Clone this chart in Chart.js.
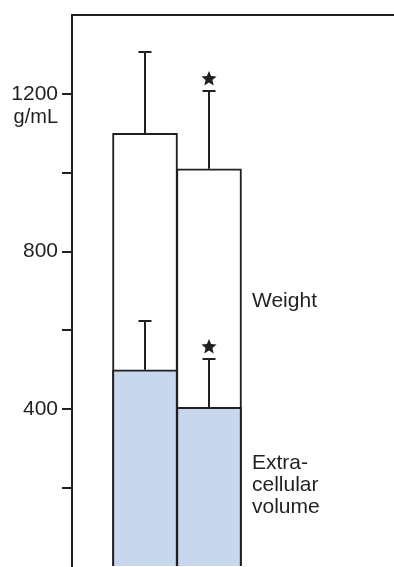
<!DOCTYPE html>
<html>
<head>
<meta charset="utf-8">
<script src="https://cdn.jsdelivr.net/npm/chart.js@4/dist/chart.umd.min.js"></script>
<style>
  html, body { margin: 0; padding: 0; background: #ffffff; }
  canvas { display: block; }
</style>
</head>
<body>
<canvas id="chart" width="394" height="567"></canvas>
<script>
// Two groups, each shown as an overlaid pair of bars (body weight behind,
// extracellular volume in front), with upward SD bars and significance stars.
const groups = ['Group 1', 'Group 2'];
const weight = [1100, 1010];
const weightSD = [205, 197];
const ecv = [500, 405];
const ecvSD = [125, 123];
const significant = [false, true];

const yTickLabels = [400, 800, 1200];
const yUnit = 'g/mL';
const weightLabel = ['Weight'];
const ecvLabel = ['Extra-', 'cellular', 'volume'];

const INK = '#231f20';
const BLUE = '#c6d7ee';
const FONT = '"Liberation Sans", Arial, Helvetica, sans-serif';

const toPoints = arr => arr.map((v, i) => ({ x: i + 1, y: v }));

function drawStar(ctx, cx, cy, R, r) {
  ctx.beginPath();
  for (let k = 0; k < 10; k++) {
    const rad = k % 2 === 0 ? R : r;
    const a = -Math.PI / 2 + k * Math.PI / 5;
    const px = cx + rad * Math.cos(a);
    const py = cy + rad * Math.sin(a);
    if (k === 0) ctx.moveTo(px, py); else ctx.lineTo(px, py);
  }
  ctx.closePath();
  ctx.fill();
}

const overlay = {
  id: 'overlay',
  afterDatasetsDraw(chart) {
    const ctx = chart.ctx;
    const xs = chart.scales.x;
    const ys = chart.scales.y;
    ctx.save();
    ctx.strokeStyle = INK;
    ctx.fillStyle = INK;
    ctx.lineWidth = 2;

    const series = [[weight, weightSD], [ecv, ecvSD]];
    series.forEach(([vals, sds]) => {
      vals.forEach((v, i) => {
        const x = Math.round(xs.getPixelForValue(i + 1));
        const y0 = ys.getPixelForValue(v);
        const y1 = Math.round(ys.getPixelForValue(v + sds[i]));
        ctx.beginPath();
        ctx.moveTo(x, y0);
        ctx.lineTo(x, y1);
        ctx.moveTo(x - 6.5, y1);
        ctx.lineTo(x + 6.5, y1);
        ctx.stroke();
        if (significant[i]) {
          drawStar(ctx, x, y1 - 12, 8, 3.6);
        }
      });
    });

    // unit under the top tick label
    ctx.font = '20px ' + FONT;
    ctx.textAlign = 'right';
    ctx.textBaseline = 'alphabetic';
    ctx.fillStyle = INK;
    const yTop = ys.getPixelForValue(1200);
    ctx.fillText(yUnit, ys.right - 14, yTop + 29);

    // series captions to the right of the bars
    ctx.font = '21px ' + FONT;
    ctx.textAlign = 'left';
    const lx = xs.getPixelForValue(groups.length) + 43;
    weightLabel.forEach((t, k) => ctx.fillText(t, lx, ys.getPixelForValue(660) + k * 22));
    ecvLabel.forEach((t, k) => ctx.fillText(t, lx, ys.getPixelForValue(249) + k * 22));
    ctx.restore();
  }
};

new Chart(document.getElementById('chart'), {
  type: 'bar',
  data: {
    datasets: [
      {
        label: 'Extracellular volume',
        data: toPoints(ecv),
        backgroundColor: BLUE,
        borderColor: INK,
        borderWidth: 2,
        borderSkipped: 'start',
        barThickness: 65,
        grouped: false,
        order: 1
      },
      {
        label: 'Weight',
        data: toPoints(weight),
        backgroundColor: '#ffffff',
        borderColor: INK,
        borderWidth: 2,
        borderSkipped: 'start',
        barThickness: 65,
        grouped: false,
        order: 2
      }
    ]
  },
  options: {
    responsive: false,
    animation: false,
    devicePixelRatio: 1,
    layout: { padding: { top: 15, right: 0, bottom: 0, left: 0 } },
    plugins: { legend: { display: false }, tooltip: { enabled: false } },
    scales: {
      x: {
        type: 'linear',
        position: 'top',
        offset: false,
        min: -0.1406,
        max: 4.8906,
        ticks: { display: false },
        grid: { display: false, offset: false },
        border: { display: true, color: INK, width: 2 },
        afterFit(scale) {
          scale.height = 0;
          scale.paddingLeft = 0;
          scale.paddingRight = 0;
        }
      },
      y: {
        min: 0,
        max: 1400,
        afterFit(scale) {
          scale.width = 72;
          scale.paddingTop = 0;
          scale.paddingBottom = 0;
        },
        afterBuildTicks(scale) {
          const t = [];
          for (let v = 0; v <= 1400; v += 200) t.push({ value: v });
          scale.ticks = t;
        },
        ticks: {
          padding: 4,
          color: INK,
          font: { family: FONT, size: 21 },
          callback: v => (yTickLabels.includes(v) ? String(v) : '')
        },
        grid: {
          drawOnChartArea: false,
          drawTicks: true,
          tickLength: 10,
          lineWidth: 2,
          color: ctx => (ctx.tick && (ctx.tick.value === 0 || ctx.tick.value === 1400) ? 'rgba(0,0,0,0)' : INK)
        },
        border: { display: true, color: INK, width: 2 }
      }
    }
  },
  plugins: [overlay]
});
</script>
</body>
</html>
